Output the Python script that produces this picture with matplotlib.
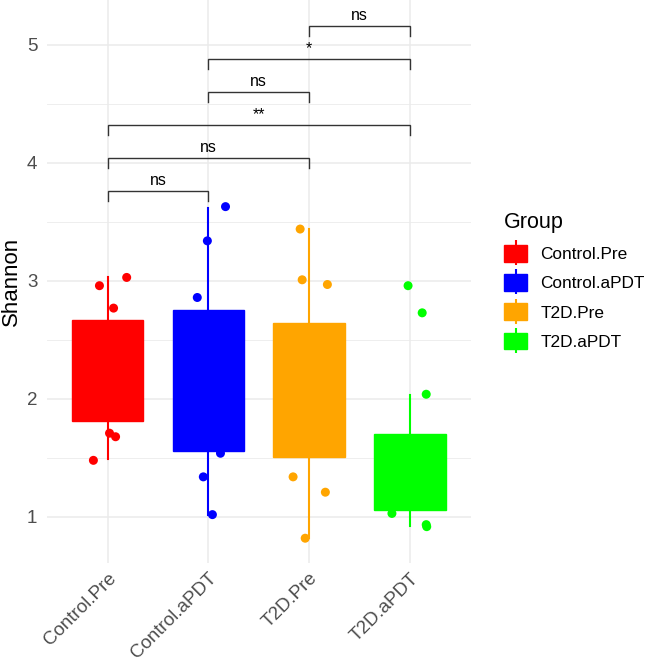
import matplotlib
matplotlib.use("Agg")
import matplotlib.pyplot as plt
from matplotlib.patches import Patch
from matplotlib.lines import Line2D
from matplotlib.legend_handler import HandlerTuple
from matplotlib.ticker import MultipleLocator

plt.rcParams['font.family'] = ['Liberation Sans', 'DejaVu Sans']

# ---- data ----
groups = ["Control.Pre", "Control.aPDT", "T2D.Pre", "T2D.aPDT"]
colors = ["#FF0000", "#0000FF", "#FFA500", "#00FF00"]

# box statistics
q1 = [1.81, 1.56, 1.51, 1.06]
q3 = [2.67, 2.75, 2.64, 1.70]
med = [2.20, 2.10, 2.00, 1.30]
whislo = [1.49, 1.02, 0.82, 0.92]
whishi = [3.03, 3.62, 3.44, 2.03]

# jittered points: values and horizontal jitter offsets
pts_ctrl_pre = [3.03, 2.96, 2.77, 1.71, 1.68, 1.48]
jit_ctrl_pre = [0.19, -0.08, 0.06, 0.02, 0.08, -0.14]
pts_ctrl_apdt = [3.63, 3.34, 2.86, 1.54, 1.34, 1.02]
jit_ctrl_apdt = [0.17, -0.01, -0.11, 0.12, -0.05, 0.04]
pts_t2d_pre = [3.44, 3.01, 2.97, 1.34, 1.21, 0.82]
jit_t2d_pre = [-0.09, -0.07, 0.18, -0.16, 0.16, -0.04]
pts_t2d_apdt = [2.96, 2.73, 2.04, 1.03, 0.935, 0.918]
jit_t2d_apdt = [-0.02, 0.12, 0.16, -0.18, 0.16, 0.165]

points = [pts_ctrl_pre, pts_ctrl_apdt, pts_t2d_pre, pts_t2d_apdt]
jitters = [jit_ctrl_pre, jit_ctrl_apdt, jit_t2d_pre, jit_t2d_apdt]

# significance comparisons (group index pairs), bracket heights, labels
comp_a = [0, 0, 0, 1, 1, 2]
comp_b = [1, 2, 3, 2, 3, 3]
comp_y = [3.76, 4.04, 4.32, 4.60, 4.88, 5.16]
comp_lab = ["ns", "ns", "**", "ns", "*", "ns"]

yticks = [1, 2, 3, 4, 5]

# ---- figure ----
W, H = 649, 660
fig = plt.figure(figsize=(W / 100, H / 100), dpi=100)
left, right, bottom, top = 47, 470.6, 563, 0
ax = fig.add_axes([left / W, 1 - bottom / H, (right - left) / W, (bottom - top) / H])

# grid
ax.set_axisbelow(True)
ax.yaxis.set_minor_locator(MultipleLocator(0.5))
ax.grid(which='major', axis='both', color='#EBEBEB', lw=1.1)
ax.grid(which='minor', axis='y', color='#EBEBEB', lw=0.6)
for s in ax.spines.values():
    s.set_visible(False)

# boxes
for i, c in enumerate(colors):
    st = [dict(q1=q1[i], q3=q3[i], med=med[i], whislo=whislo[i],
               whishi=whishi[i], fliers=[])]
    ax.bxp(st, positions=[i], widths=0.71, patch_artist=True, showcaps=False,
           showfliers=False,
           boxprops=dict(facecolor=c, edgecolor=c, lw=1.0),
           whiskerprops=dict(color=c, lw=1.5),
           medianprops=dict(color=c, lw=1.0),
           zorder=2)

# points
for i, c in enumerate(colors):
    xs = [i + j for j in jitters[i]]
    ax.scatter(xs, points[i], s=42, color=c, edgecolors='none', zorder=3)

# significance brackets
tick = 0.085
for a, b, y, lab in zip(comp_a, comp_b, comp_y, comp_lab):
    ax.plot([a, a, b, b], [y - tick, y, y, y - tick], color='#333333', lw=1.0,
            zorder=4, solid_joinstyle='miter')
    ax.text((a + b) / 2, y + 0.05, lab, ha='center', va='baseline',
            fontsize=11.5, color='black')

ax.set_xlim(-0.6, 3.6)
ax.set_ylim(0.61, 5.381)
ax.set_xticks(range(len(groups)))
ax.set_xticklabels(groups, rotation=45, ha='right', va='top',
                   rotation_mode='anchor', fontsize=13.5, color='#4D4D4D')
ax.set_yticks(yticks)
ax.set_yticklabels([str(v) for v in yticks], fontsize=13.5, color='#4D4D4D')
ax.tick_params(axis='both', which='both', length=0)
ax.tick_params(axis='y', pad=7)
ax.tick_params(axis='x', pad=5)
ax.set_ylabel("Shannon", fontsize=16, color='black')
ax.yaxis.set_label_coords((22 - left) / (right - left), 0.5)

# legend
handles = [(Patch(facecolor=c, edgecolor=c),
            Line2D([], [], color=c, marker='|', markersize=18, mew=1.5,
                   linestyle='None')) for c in colors]
leg = fig.legend(handles, groups, title="Group", loc='upper left',
                 bbox_to_anchor=(492 / W, 1 - 200 / H), frameon=False,
                 fontsize=12.4, title_fontsize=15.5,
                 handler_map={tuple: HandlerTuple(ndivide=1)},
                 handlelength=1.34, handleheight=1.1, labelspacing=0.70,
                 handletextpad=0.76, alignment='left', borderpad=0.2)

fig.savefig("out.png", dpi=100)
